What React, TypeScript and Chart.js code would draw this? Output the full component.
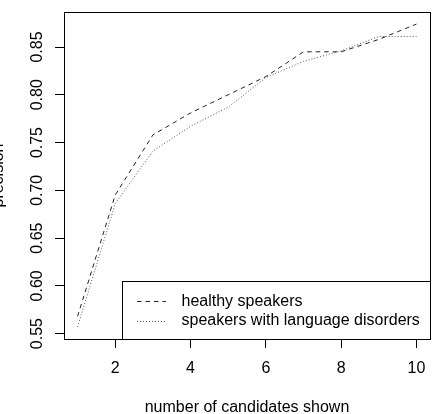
import React, { useEffect, useRef } from "react";
import { Chart, registerables } from "chart.js";

Chart.register(...registerables);

// Number of candidates shown (x) and precision per group
const candidates = [1, 2, 3, 4, 5, 6, 7, 8, 9, 10];
const healthy = [0.568, 0.695, 0.758, 0.781, 0.8, 0.819, 0.845, 0.845, 0.858, 0.874];
const disorders = [0.557, 0.686, 0.741, 0.767, 0.787, 0.818, 0.835, 0.846, 0.861, 0.861];

const xTicks = [2, 4, 6, 8, 10];
const yTicks = [0.55, 0.6, 0.65, 0.7, 0.75, 0.8, 0.85];
const yTickLabels = ["0.55", "0.60", "0.65", "0.70", "0.75", "0.80", "0.85"];

const seriesLabels = ["healthy speakers", "speakers with language disorders"];
const xTitle = "number of candidates shown";
const yTitle = "precision";

const FONT = '"Liberation Sans", Arial, Helvetica, sans-serif';

// Base-graphics style range: data range widened by 4% on each side
function padded(values: number[]) {
  const lo = Math.min(...values);
  const hi = Math.max(...values);
  const d = (hi - lo) * 0.04;
  return { min: lo - d, max: hi + d };
}

const DASHED = [4.5, 4];
const DOTTED = [1, 2];

const frame = {
  id: "frame",
  afterDraw(chart: any) {
    const { ctx, chartArea: a, scales } = chart;
    ctx.save();
    // box round the plotting region
    ctx.strokeStyle = "#000";
    ctx.lineWidth = 1;
    ctx.setLineDash([]);
    ctx.strokeRect(Math.round(a.left) + 0.5, Math.round(a.top) + 0.5, Math.round(a.right - a.left), Math.round(a.bottom - a.top));

    ctx.fillStyle = "#000";
    ctx.font = `16px ${FONT}`;

    // rotated y tick labels
    yTicks.forEach((v, i) => {
      const y = scales.y.getPixelForValue(v);
      ctx.save();
      ctx.translate(a.left - 22.5, y);
      ctx.rotate(-Math.PI / 2);
      ctx.textAlign = "center";
      ctx.textBaseline = "alphabetic";
      ctx.fillText(yTickLabels[i], 0, 0);
      ctx.restore();
    });

    // axis titles
    ctx.textAlign = "center";
    ctx.textBaseline = "alphabetic";
    ctx.fillText(xTitle, (a.left + a.right) / 2, 412);
    ctx.save();
    ctx.translate(3, (a.top + a.bottom) / 2);
    ctx.rotate(-Math.PI / 2);
    ctx.fillText(yTitle, 0, 0);
    ctx.restore();

    // legend in the lower right corner
    const lx = 122.5;
    const ly = 281.5;
    const lw = Math.round(a.right) - lx + 0.5;
    const lh = Math.round(a.bottom) + 0.5 - ly;
    ctx.fillStyle = "#fff";
    ctx.fillRect(lx, ly, lw, lh);
    ctx.strokeStyle = "#000";
    ctx.strokeRect(lx, ly, lw, lh);

    const rows = [
      { y: 301.5, dash: DASHED, color: "#222", base: 306 },
      { y: 321.5, dash: DOTTED, color: "#555", base: 325 },
    ];
    rows.forEach((r, i) => {
      ctx.beginPath();
      ctx.setLineDash(r.dash);
      ctx.strokeStyle = r.color;
      ctx.moveTo(137, r.y);
      ctx.lineTo(166, r.y);
      ctx.stroke();
      ctx.setLineDash([]);
      ctx.fillStyle = "#000";
      ctx.textAlign = "left";
      ctx.fillText(seriesLabels[i], 181.5, r.base);
    });
    ctx.restore();
  },
};

export default function App() {
  const ref = useRef<HTMLCanvasElement | null>(null);

  useEffect(() => {
    if (!ref.current) return;
    const xr = padded(candidates);
    const yr = padded([...healthy, ...disorders]);

    const chart = new Chart(ref.current, {
      type: "line",
      data: {
        datasets: [
          {
            label: seriesLabels[0],
            data: candidates.map((c, i) => ({ x: c, y: healthy[i] })),
            borderColor: "#222",
            borderWidth: 1,
            borderDash: DASHED,
            pointRadius: 0,
            tension: 0,
            fill: false,
          },
          {
            label: seriesLabels[1],
            data: candidates.map((c, i) => ({ x: c, y: disorders[i] })),
            borderColor: "#555",
            borderWidth: 1,
            borderDash: DOTTED,
            pointRadius: 0,
            tension: 0,
            fill: false,
          },
        ],
      },
      options: {
        responsive: false,
        animation: false,
        layout: { padding: { top: 12, right: 7, left: 0, bottom: 0 } },
        plugins: {
          legend: { display: false },
          tooltip: { enabled: false },
        },
        scales: {
          x: {
            type: "linear",
            min: xr.min,
            max: xr.max,
            afterBuildTicks: (s: any) => {
              s.ticks = xTicks.map((v) => ({ value: v }));
            },
            afterFit: (s: any) => {
              s.height = 75;
            },
            grid: { drawOnChartArea: false, drawTicks: true, tickLength: 9, color: "#000", lineWidth: 1 },
            border: { display: true, color: "#000" },
            ticks: {
              color: "#000",
              font: { family: FONT, size: 16 },
              padding: 11,
              maxRotation: 0,
              autoSkip: false,
            },
          },
          y: {
            type: "linear",
            min: yr.min,
            max: yr.max,
            afterBuildTicks: (s: any) => {
              s.ticks = yTicks.map((v) => ({ value: v }));
            },
            afterFit: (s: any) => {
              s.width = 64;
            },
            grid: { drawOnChartArea: false, drawTicks: true, tickLength: 9, color: "#000", lineWidth: 1 },
            border: { display: true, color: "#000" },
            ticks: { display: false },
          },
        },
      },
      plugins: [frame],
    });
    return () => chart.destroy();
  }, []);

  return (
    <div style={{ position: "fixed", left: 0, top: 0, width: 437, height: 414, background: "#fff" }}>
      <canvas ref={ref} width={437} height={414} style={{ display: "block" }} />
    </div>
  );
}
